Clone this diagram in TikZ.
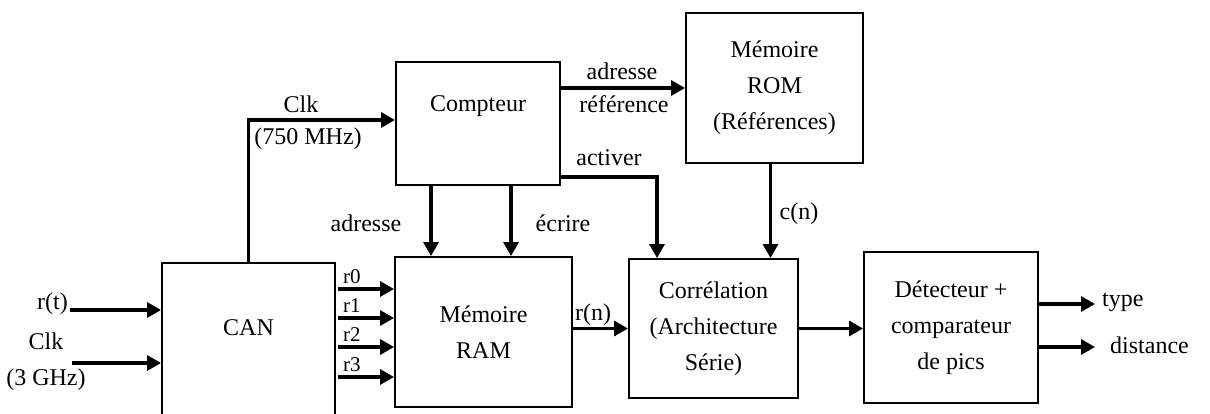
\documentclass[tikz,border=0pt]{standalone}
\usepackage{fontspec}
\setmainfont{Liberation Serif}
\usetikzlibrary{positioning, arrows.meta, calc}

\begin{document}
\begin{tikzpicture}[
  x=1pt, y=-1pt,
  font=\fontsize{24}{36}\selectfont,
  blk/.style={draw, line width=1.9pt, inner sep=0pt, align=center},
  sig/.style={line width=3.2pt, -{Triangle[length=14pt,width=15pt]}},
  lbl/.style={inner sep=0pt, align=center},
  rlab/.style={inner sep=0pt, anchor=west, font=\fontsize{21}{22}\selectfont}
]
\useasboundingbox (0,0) rectangle (1210,414);

% blocs
\node[blk, minimum width=173pt, minimum height=157pt, text depth=27pt] (can) at (248.5,341.5) {CAN};
\node[blk, minimum width=164pt, minimum height=123pt, text depth=39pt] (cpt) at (478,123.5) {Compteur};
\node[blk, minimum width=177pt, minimum height=150pt] (ram) at (483.5,332) {Mémoire\\RAM};
\node[blk, minimum width=177pt, minimum height=150pt] (rom) at (774.5,88) {Mémoire\\ROM\\(Références)};
\node[blk, minimum width=169pt, minimum height=139pt] (corr) at (713.5,328.5) {Corrélation\\(Architecture\\Série)};
\node[blk, minimum width=174pt, minimum height=151pt] (det) at (951,327.5) {Détecteur +\\comparateur\\de pics};

% entrees
\coordinate (rtin) at (70,310);
\coordinate (clkin) at (72,363);
\node[lbl, anchor=east] (rtl) at (68,304) {r(t)};
\node[lbl] (clkl) at (46,362) {Clk\\(3 GHz)};
\draw[sig] (rtin) -- (rtin -| can.west);
\draw[sig] (clkin) -- (clkin -| can.west);

% sorties du CAN
\foreach \i/\yy in {0/289, 1/318, 2/347, 3/377} {
  \coordinate (c\i) at (338,\yy);
  \draw[sig] (c\i) -- (c\i -| ram.west);
  \node[rlab] (rl\i) at (343,\yy-12) {r\i};
}

% horloge du compteur
\draw[sig] (can.north) |- ([yshift=3.5pt]cpt.west);
\node[lbl] (clkb) at (301,104) {Clk};
\node[lbl] (clkbf) at (308,139) {(750 MHz)};

% adresse reference
\draw[sig] (cpt.east |- rom.west) -- (rom.west);
\node[lbl] (adr) at (622,71) {adresse};
\node[lbl] (ref) at (624,104) {référence};

% activer
\coordinate (act) at (657,177);
\draw[sig] (cpt.east |- act) -- (act) -- (act |- corr.north);
\node[lbl] (actl) at (609,158) {activer};

% adresse / ecrire
\draw[sig] ([xshift=-47pt]cpt.south) -- ([xshift=-47pt]cpt.south |- ram.north);
\draw[sig] ([xshift=33pt]cpt.south) -- ([xshift=33pt]cpt.south |- ram.north);
\node[lbl] (adrr) at (366,223) {adresse};
\node[lbl] (ecr) at (563,223) {écrire};

% c(n)
\draw[sig] ([xshift=-4pt]rom.south) -- ([xshift=-4pt]rom.south |- corr.north);
\node[lbl] (cn) at (799,214) {c(n)};

% r(n)
\draw[sig] (ram.east |- corr.west) -- (corr.west);
\node[lbl] (rn) at (593,315) {r(n)};

% correlation -> detecteur
\draw[sig] (corr.east) -- (corr.east -| det.west);

% sorties
\coordinate (typ) at (1095,304);
\coordinate (dist) at (1095,347);
\draw[sig] (det.east |- typ) -- (typ);
\draw[sig] (det.east |- dist) -- (dist);
\node[lbl, anchor=west] (typl) at (1102,302) {type};
\node[lbl, anchor=west] (distl) at (1110,345) {distance};
\end{tikzpicture}
\end{document}
